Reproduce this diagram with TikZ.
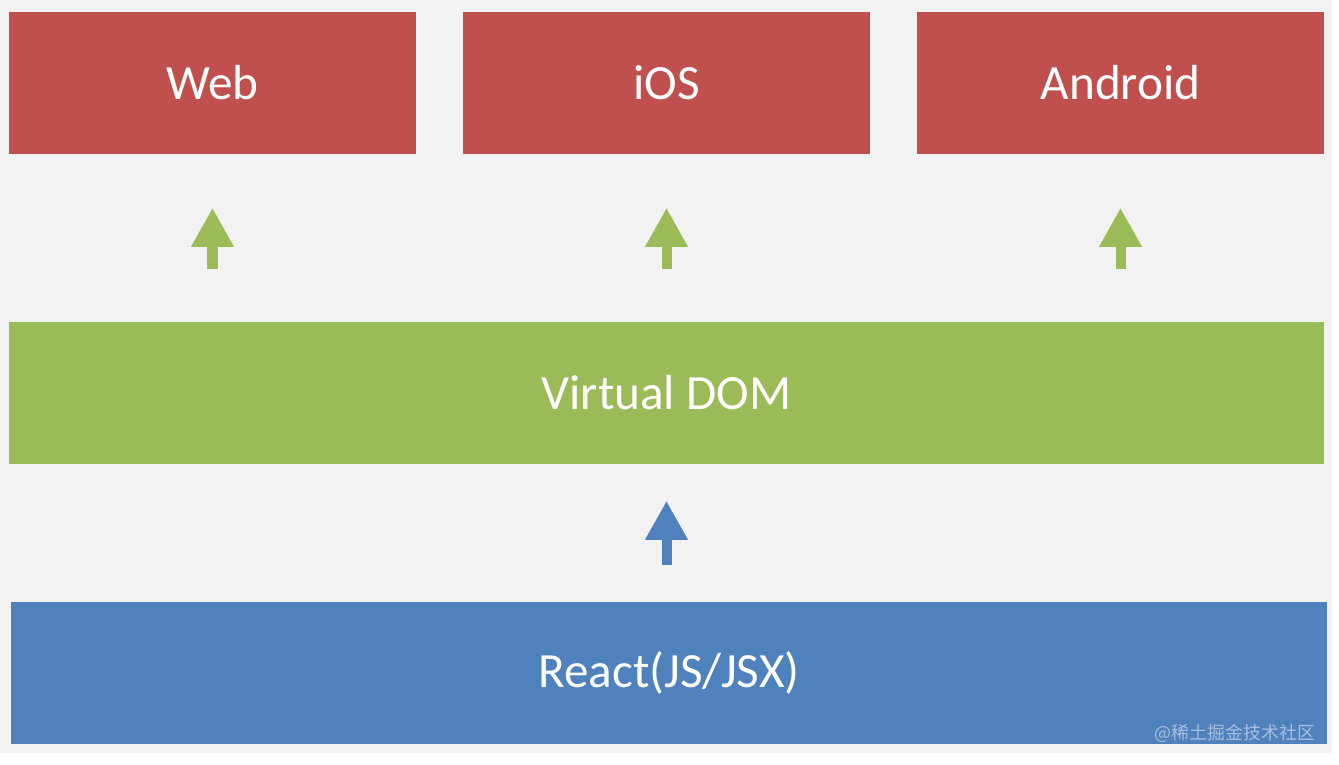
\documentclass[tikz,border=0pt]{standalone}
\usepackage{fontspec}
\setmainfont{Carlito}
\newfontfamily\cjk{Noto Sans CJK SC}
\usetikzlibrary{positioning,arrows.meta}
\definecolor{rnred}{HTML}{C0504D}
\definecolor{rngreen}{HTML}{9BBB59}
\definecolor{rnblue}{HTML}{4F81BD}
\definecolor{rnback}{HTML}{F2F2F2}
\tikzset{
  layer/.style   ={draw=none, inner sep=0pt, text=white,
                   font=\fontsize{14}{17}\selectfont},
  target/.style  ={layer, fill=rnred, minimum width=4.07cm, minimum height=1.42cm},
  wide/.style    ={layer, minimum width=13.15cm, minimum height=1.42cm},
  uparrow/.style ={line width=1mm, -{Triangle[length=3.9mm,width=4mm]}},
}
\begin{document}
\begin{tikzpicture}[x=0.01cm,y=-0.01cm]
    % page and background
    \fill[white] (0,0) rectangle (1339,765);
    \fill[rnback] (0,0) rectangle (1332,753);
    \useasboundingbox (0,0) rectangle (1339,765);
    % platforms
    \node[target] (web)     at (212.5,83) {Web};
    \node[target] (ios)     at (666.5,83) {iOS};
    \node[target] (android) at (1120.5,83) {Android};
    % layers
    \node[wide, fill=rngreen] (dom)   at (666.5,393) {Virtual DOM};
    \node[wide, fill=rnblue]  (react) at (669,673) {React(JS/JSX)};
    % arrows
    \foreach \t in {web,ios,android}
        \draw[uparrow, rngreen, shorten <=0.52cm, shorten >=0.53cm]
            (dom.north -| \t.south) -- (\t.south);
    \draw[uparrow, rnblue, shorten <=0.36cm, shorten >=0.36cm]
        (react.north -| dom.south) -- (dom.south);
    % watermark
    \node[anchor=east, inner sep=0pt, text=white, opacity=0.5,
          font=\cjk\fontsize{5.1}{6}\selectfont] (mark)
        at (1316,733) {@稀土掘金技术社区};
\end{tikzpicture}
\end{document}
